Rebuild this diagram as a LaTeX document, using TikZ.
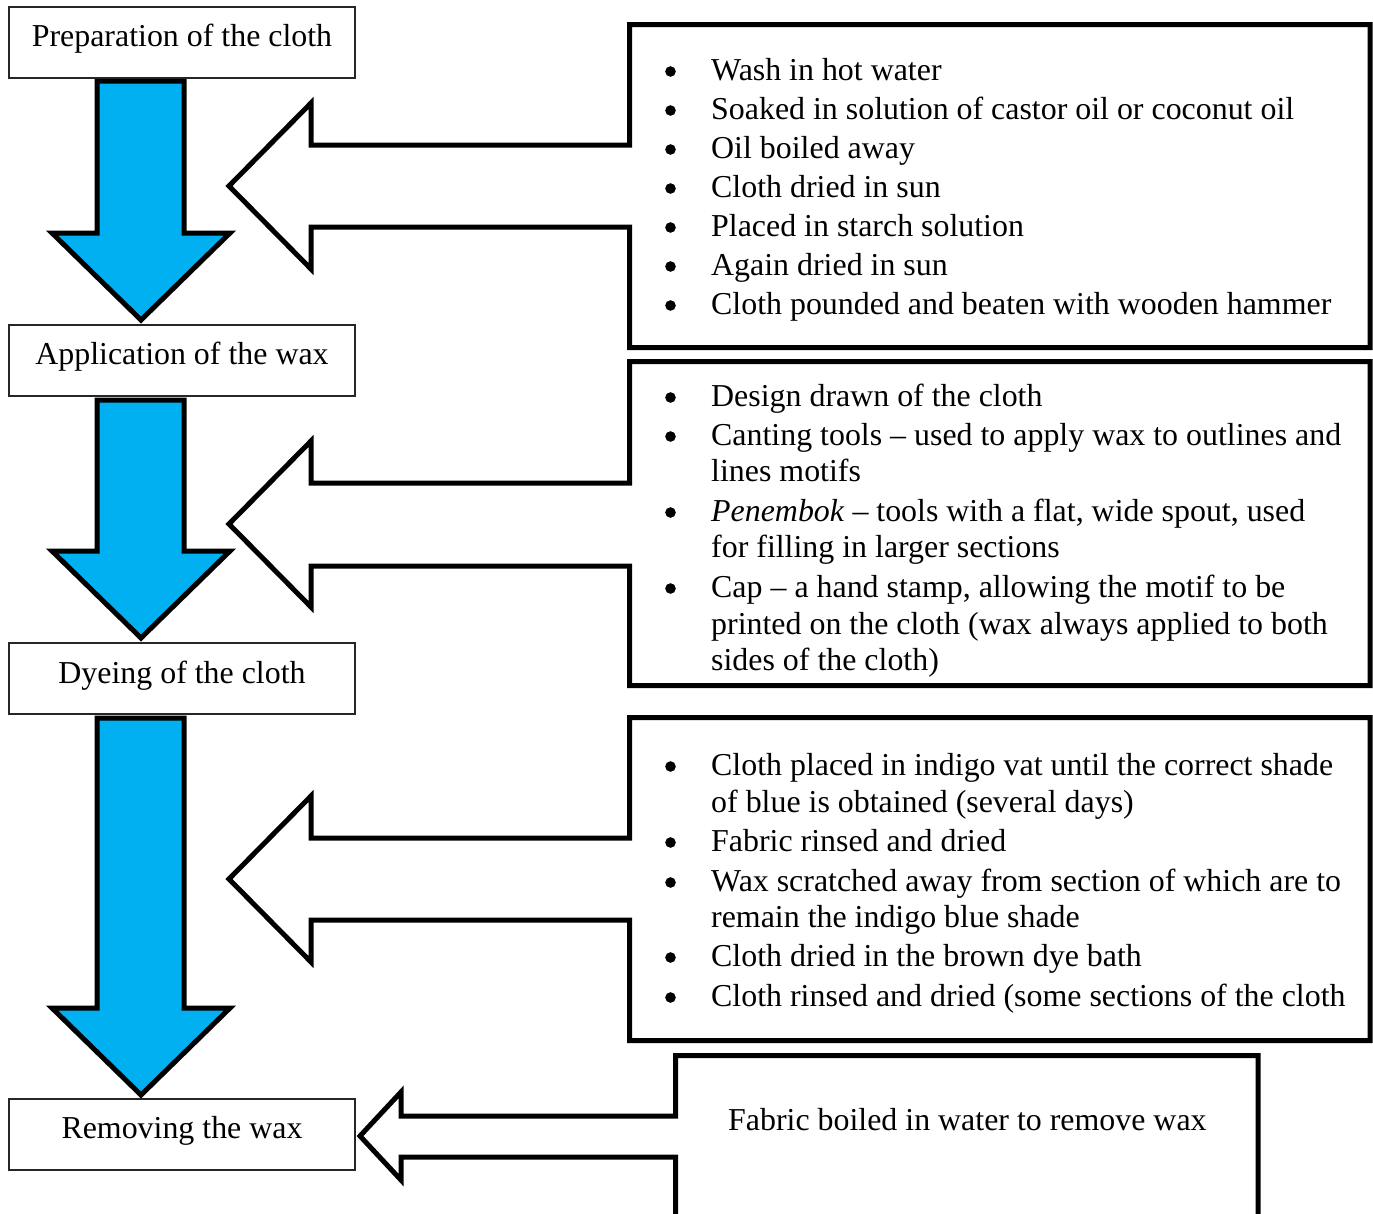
\documentclass[tikz,border=0pt]{standalone}
\usepackage{fontspec}
\setmainfont{Liberation Serif}
\definecolor{arrowblue}{RGB}{0,176,240}
\tikzset{
  stepbox/.style={draw=black!85, line width=1.2pt, minimum width=346pt, minimum height=71pt, inner sep=0pt, fill=white},
  steptext/.style={anchor=base, inner sep=0pt, font=\fontsize{31.9}{36.5}\selectfont},
  txt/.style={anchor=base west, inner sep=0pt, font=\fontsize{31.9}{36.5}\selectfont},
  bulletdot/.style={fill=black},
  downarrow/.style={draw=black, line width=5pt, fill=arrowblue, line join=miter},
  callout/.style={draw=black, line width=5pt, fill=white, line join=miter},
}
\begin{document}
\begin{tikzpicture}[x=1pt, y=-1pt]
\useasboundingbox (0,0) rectangle (1373,1213);
\clip (0,0) rectangle (1373,1213);
\fill[white] (0,0) rectangle (1373,1213);

% blue down arrows
\draw[downarrow] (97,81) -- (184,81) -- (184,233) -- (230,233) -- (141,320) -- (52,233) -- (97,233) -- cycle;
\draw[downarrow] (97,400) -- (184,400) -- (184,551) -- (230,551) -- (141,638) -- (52,551) -- (97,551) -- cycle;
\draw[downarrow] (97,718) -- (184,718) -- (184,1008) -- (230,1008) -- (141,1095) -- (52,1008) -- (97,1008) -- cycle;

% step boxes
\node[stepbox] (s1) at (182,42.5) {};
\node[steptext] (t1) at (182,46) {Preparation of the cloth};
\node[stepbox] (s2) at (182,360.5) {};
\node[steptext] (t2) at (182,364) {Application of the wax};
\node[stepbox] (s3) at (182,678.5) {};
\node[steptext] (t3) at (182,683) {Dyeing of the cloth};
\node[stepbox] (s4) at (182,1134.5) {};
\node[steptext] (t4) at (182,1138) {Removing the wax};

% callout boxes with left arrows
\draw[callout] (629.5,24.5) -- (1370,24.5) -- (1370,347.5) -- (629.5,347.5) -- (629.5,227) -- (311,227) -- (311,269) -- (229,186) -- (311,103) -- (311,145) -- (629.5,145) -- cycle;
\draw[callout] (629.5,361.5) -- (1370,361.5) -- (1370,685.5) -- (629.5,685.5) -- (629.5,566) -- (311,566) -- (311,607) -- (229,524) -- (311,441) -- (311,483) -- (629.5,483) -- cycle;
\draw[callout] (629.5,717.5) -- (1370,717.5) -- (1370,1040.5) -- (629.5,1040.5) -- (629.5,920) -- (311,920) -- (311,962) -- (229,879) -- (311,796) -- (311,838) -- (629.5,838) -- cycle;
\draw[callout] (675.5,1055.5) -- (1258,1055.5) -- (1258,1300) -- (675.5,1300) -- (675.5,1157) -- (401,1157) -- (401,1180) -- (360,1136) -- (401,1092) -- (401,1116) -- (675.5,1116) -- cycle;

% bullets
\foreach \y in {80,119,158,197,236,275,314, 406,445,521,597, 775,851,891,966,1006}
  \fill[bulletdot] (670.5,\y-8.5) circle (5.3);

% box 1 text
\node[txt] (a1) at (711,80) {Wash in hot water};
\node[txt] (a2) at (711,119) {Soaked in solution of castor oil or coconut oil};
\node[txt] (a3) at (711,158) {Oil boiled away};
\node[txt] (a4) at (711,197) {Cloth dried in sun};
\node[txt] (a5) at (711,236) {Placed in starch solution};
\node[txt] (a6) at (711,275) {Again dried in sun};
\node[txt] (a7) at (711,314) {Cloth pounded and beaten with wooden hammer};

% box 2 text
\node[txt] (b1) at (711,406) {Design drawn of the cloth};
\node[txt] (b2) at (711,445) {Canting tools – used to apply wax to outlines and};
\node[txt] (b3) at (711,481) {lines motifs};
\node[txt] (b4) at (711,521) {\textit{Penembok} – tools with a flat, wide spout, used};
\node[txt] (b5) at (711,557) {for filling in larger sections};
\node[txt] (b6) at (711,597) {Cap – a hand stamp, allowing the motif to be};
\node[txt] (b7) at (711,634) {printed on the cloth (wax always applied to both};
\node[txt] (b8) at (711,670) {sides of the cloth)};

% box 3 text
\node[txt] (c1) at (711,775) {Cloth placed in indigo vat until the correct shade};
\node[txt] (c2) at (711,812) {of blue is obtained (several days)};
\node[txt] (c3) at (711,851) {Fabric rinsed and dried};
\node[txt] (c4) at (711,891) {Wax scratched away from section of which are to};
\node[txt] (c5) at (711,927) {remain the indigo blue shade};
\node[txt] (c6) at (711,966) {Cloth dried in the brown dye bath};
\node[txt] (c7) at (711,1006) {Cloth rinsed and dried (some sections of the cloth};

% box 4 text
\node[txt] (d1) at (728,1130) {Fabric boiled in water to remove wax};
\end{tikzpicture}
\end{document}
